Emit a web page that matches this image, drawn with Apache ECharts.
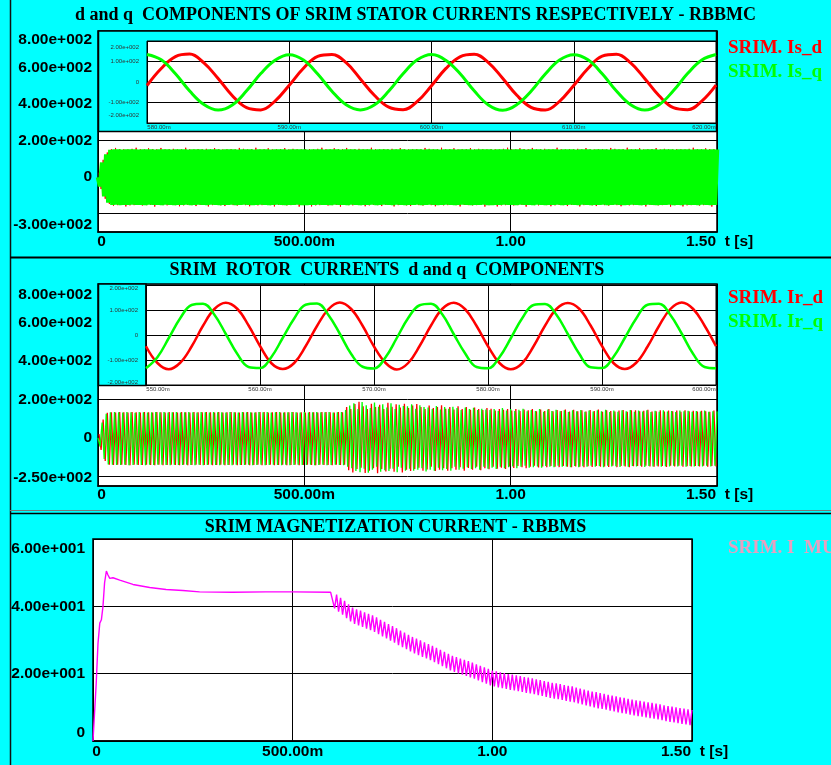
<!DOCTYPE html>
<html><head><meta charset="utf-8">
<script src="https://cdn.jsdelivr.net/npm/echarts@6/dist/echarts.min.js"></script>
<style>html,body{margin:0;padding:0;background:#00ffff}#c{width:831px;height:765px}</style>
</head><body><div id="c"></div>
<script>
// ---------- DATA ----------
// main time traces: one value per half period (5 ms), peaks and troughs
const MAIN_STEP = 0.005;           // s
const D_OFFSET = 0.0025;           // d component sampled a quarter period later
// Panel 1 : stator currents (A)
const isQMain = [
0,-50,80,-105,125,-140,150,-152,153,-151,
152,-153,151,-152,153,-152,152,-151,153,-152,
151,-152,152,-153,152,-151,153,-152,151,-152,
152,-153,153,-151,152,-152,151,-153,152,-152,
153,-152,152,-151,151,-153,152,-152,153,-151,
152,-152,151,-153,152,-151,153,-152,152,-153,
151,-152,152,-152,153,-151,152,-153,151,-152,
152,-151,153,-152,152,-153,151,-152,152,-151,
153,-152,152,-153,151,-152,152,-151,153,-152,
152,-153,151,-152,152,-152,153,-151,152,-153,
152,-153,151,-152,153,-152,152,-151,153,-152,
151,-152,152,-153,152,-151,153,-152,151,-152,
152,-153,153,-151,152,-152,151,-153,152,-152,
153,-152,152,-151,151,-153,152,-152,153,-151,
152,-152,151,-153,152,-151,153,-152,152,-153,
151,-152,152,-152,153,-151,152,-153,151,-152,
152,-151,153,-152,152,-153,151,-152,152,-151,
153,-152,152,-153,151,-152,152,-151,153,-152,
152,-153,151,-152,152,-152,153,-151,152,-153,
152,-153,151,-152,153,-152,152,-151,153,-152,
151,-152,152,-153,152,-151,153,-152,151,-152,
152,-153,153,-151,152,-152,151,-153,152,-152,
153,-152,152,-151,151,-153,152,-152,153,-151,
152,-152,151,-153,152,-151,153,-152,152,-153,
151,-152,152,-152,153,-151,152,-153,151,-152,
152,-151,153,-152,152,-153,151,-152,152,-151,
153,-152,152,-153,151,-152,152,-151,153,-152,
152,-153,151,-152,152,-152,153,-151,152,-153,
151,-152,152,-153,152,-151,153,-152,151,-152,
152,-153,153,-151,152,-152,151,-153,152,-152,
152];
const isDMain = [
25,-65,95,-118,135,-146,153,-156,160,-153,
154,-152,153,-160,152,-154,155,-153,161,-152,
153,-155,152,-153,158,-152,154,-161,153,-152,
160,-153,152,-154,153,-152,155,-153,152,-159,
152,-154,161,-152,153,-153,152,-158,154,-152,
153,-152,155,-160,152,-153,159,-152,153,-154,
152,-158,153,-152,154,-153,152,-155,160,-152,
155,-153,152,-159,153,-152,161,-154,152,-153,
153,-152,158,-153,152,-160,153,-152,154,-153,
159,-154,152,-153,155,-152,153,-161,152,-153,
154,-152,153,-160,152,-154,155,-153,161,-152,
153,-155,152,-153,158,-152,154,-161,153,-152,
160,-153,152,-154,153,-152,155,-153,152,-159,
152,-154,161,-152,153,-153,152,-158,154,-152,
153,-152,155,-160,152,-153,159,-152,153,-154,
152,-158,153,-152,154,-153,152,-155,160,-152,
155,-153,152,-159,153,-152,161,-154,152,-153,
153,-152,158,-153,152,-160,153,-152,154,-153,
159,-154,152,-153,155,-152,153,-161,152,-153,
154,-152,153,-160,152,-154,155,-153,161,-152,
153,-155,152,-153,158,-152,154,-161,153,-152,
160,-153,152,-154,153,-152,155,-153,152,-159,
152,-154,161,-152,153,-153,152,-158,154,-152,
153,-152,155,-160,152,-153,159,-152,153,-154,
152,-158,153,-152,154,-153,152,-155,160,-152,
155,-153,152,-159,153,-152,161,-154,152,-153,
153,-152,158,-153,152,-160,153,-152,154,-153,
159,-154,152,-153,155,-152,153,-161,152,-153,
154,-152,153,-160,152,-154,155,-153,161,-152,
153,-155,152,-153,158,-152,154,-161,153,-152];
// Panel 1 inset, 580..620 ms, 1 ms apart
const INSET1_T0 = 580, INSET_STEP = 1;
const isDInset = [-17,66,124,136,93,17,-67,-125,-136,-93,
-16,67,125,134,94,15,-66,-123,-135,-95,
-18,65,123,135,95,18,-65,-124,-137,-94,
-17,66,126,135,93,16,-67,-125,-135,-93,-15];
const isQInset = [134,108,40,-44,-110,-137,-112,-43,41,106,
133,107,39,-45,-111,-136,-111,-44,40,108,
134,106,41,-43,-112,-138,-110,-45,39,107,
133,108,40,-44,-111,-137,-111,-43,41,107,134];
// Panel 2 : rotor currents (A)
const irQMain = [
0,-45,80,-110,125,-138,133,-140,134,-141,
133,-141,132,-140,134,-142,133,-141,131,-140,
134,-141,133,-142,132,-140,133,-141,134,-139,
133,-140,134,-141,132,-142,133,-140,134,-141,
132,-141,133,-140,134,-141,133,-142,132,-140,
134,-142,133,-141,132,-140,134,-141,133,-142,
133,-140,132,-141,134,-142,133,-140,132,-141,
134,-141,133,-140,133,-142,132,-141,134,-140,
133,-142,134,-141,132,-140,133,-141,134,-142,
132,-140,133,-142,134,-141,133,-140,132,-141,
134,-141,132,-140,133,-142,134,-141,133,-140,
133,-142,134,-141,132,-140,133,-141,134,-142,
145,-150,168,-158,180,-172,150,-178,186,-160,
170,-181,155,-165,184,-150,162,-176,175,-168,
158,-172,180,-160,150,-178,172,-155,166,-170,
165,-160,175,-170,152,-165,170,-158,160,-174,
158,-165,150,-170,166,-155,148,-168,160,-162,
152,-170,162,-150,155,-166,145,-160,158,-152,
150,-162,156,-158,145,-165,152,-150,148,-160,
145,-155,150,-162,140,-150,155,-158,142,-152,
150,-148,140,-158,146,-150,152,-145,138,-155,
145,-152,140,-148,150,-155,136,-146,148,-150,
140,-153,146,-145,138,-150,144,-148,135,-152,
143,-146,138,-152,145,-147,136,-150,142,-145,
137,-150,144,-146,139,-152,146,-144,135,-149,
142,-147,136,-151,143,-145,138,-150,145,-146,
136,-149,142,-145,137,-151,144,-146,135,-148,
141,-145,136,-150,143,-147,137,-149,140,-144,
135,-148,142,-145,138,-150,141,-146,136,-149,
140,-146,137,-149,142,-144,136,-148,139,-145,
138];
const irDMain = [
20,-62,95,-120,130,-140,133,-141,132,-140,
134,-140,133,-141,132,-142,134,-140,133,-141,
132,-141,134,-140,133,-141,132,-142,134,-140,
133,-142,132,-141,134,-140,133,-141,132,-142,
134,-140,133,-142,132,-141,134,-140,133,-141,
133,-141,134,-140,133,-142,132,-141,134,-140,
132,-142,133,-141,134,-140,133,-142,132,-141,
133,-140,134,-142,132,-141,133,-140,134,-142,
134,-141,132,-140,133,-142,134,-141,132,-140,
133,-142,133,-141,134,-140,132,-142,133,-141,
132,-140,134,-141,133,-142,132,-140,134,-141,
134,-141,133,-142,132,-140,134,-141,133,-140,
160,-168,150,-180,176,-162,188,-155,165,-182,
150,-170,178,-158,160,-184,172,-162,150,-175,
182,-160,162,-176,175,-150,158,-180,178,-165,
155,-172,168,-162,176,-155,160,-170,150,-164,
168,-150,155,-172,160,-165,170,-158,152,-170,
160,-158,148,-165,165,-152,150,-170,160,-156,
146,-166,158,-150,150,-168,145,-158,155,-163,
152,-150,142,-160,150,-155,146,-162,150,-148,
142,-156,150,-146,140,-152,148,-158,144,-150,
150,-145,138,-154,147,-149,140,-152,150,-146,
138,-150,145,-152,140,-146,148,-150,137,-153,
146,-148,139,-150,144,-153,137,-147,145,-151,
140,-146,147,-150,136,-148,143,-151,140,-145,
137,-152,142,-146,145,-149,136,-152,143,-147,
144,-146,138,-150,141,-145,146,-149,137,-150,
138,-149,143,-146,137,-151,142,-145,139,-148,
142,-145,136,-150,143,-147,138,-149,141,-146,
137,-148,141,-145,139,-150,136,-146,142,-148];
// Panel 2 inset, 550..600 ms, 1 ms apart
const INSET2_T0 = 550;
const irDInset = [-45,-112,-137,-111,-46,37,104,129,105,38,
-44,-113,-136,-112,-45,36,103,130,104,37,
-46,-111,-138,-112,-44,38,105,129,103,36,
-45,-112,-137,-113,-45,37,104,128,105,38,
-44,-112,-136,-111,-46,36,104,130,104,37,-45];
const irQInset = [-133,-89,-12,67,120,125,81,4,-75,-128,
-132,-88,-11,66,121,126,80,5,-76,-127,
-134,-90,-12,68,119,125,82,3,-74,-128,
-133,-89,-13,67,120,124,81,4,-75,-129,
-132,-88,-12,66,121,125,80,5,-76,-128,-133];
// Panel 3 : magnetization current (A)
const muT = [0,0.005,0.008,0.0125,0.017,0.021,0.025,0.029,0.0335,0.0375,0.042,0.05,0.067,0.1,0.142,0.183,0.225,0.267,0.35,0.433,0.5,0.595];
const muV = [0,0,17,29,35,36,40,47,50.5,49.3,48.3,48.5,47.8,46.5,45.6,45,44.7,44.3,44.2,44.3,44.3,44.2];
const MU_OSC_T0 = 0.6;
const muOsc = [
44.4,39.4,43.5,38.4,42.5,37.5,41.6,36.5,40.6,35.5,
39.6,34.8,39.1,34.3,38.7,33.9,38.2,33.4,37.8,32.9,
37.3,32.4,36.7,31.7,36.0,31.1,35.4,30.5,34.7,29.8,
34.1,29.2,33.5,28.5,32.8,27.9,32.2,27.3,31.5,26.6,
30.9,26.0,30.4,25.5,29.9,25.0,29.3,24.5,28.8,24.0,
28.3,23.4,27.7,22.8,27.1,22.2,26.5,21.6,25.9,21.0,
25.3,20.5,24.9,20.1,24.5,19.7,24.1,19.3,23.7,18.9,
23.3,18.5,22.8,18.0,22.3,17.5,21.9,17.0,21.4,16.5,
20.9,16.2,20.7,15.9,20.4,15.7,20.2,15.5,19.9,15.2,
19.7,15.0,19.5,14.8,19.3,14.6,19.0,14.3,18.8,14.1,
18.6,13.9,18.3,13.6,18.1,13.4,17.8,13.1,17.6,12.8,
17.3,12.6,17.1,12.4,16.9,12.2,16.6,11.9,16.4,11.7,
16.2,11.5,15.9,11.2,15.6,10.9,15.3,10.6,15.0,10.3,
14.7,10.0,14.5,9.7,14.2,9.5,14.0,9.3,13.7,9.0,
13.5,8.8,13.3,8.5,13.0,8.3,12.8,8.1,12.5,7.8,
12.3,7.6,12.1,7.4,11.9,7.2,11.7,7.0,11.5,6.8,
11.3,6.6,11.1,6.4,10.9,6.2,10.6,5.9,10.4,5.7,
10.2,5.5,10.0,5.3,9.8,5.1,9.6,4.9,9.4,4.7,
9.2];
// tick labels
const tTicks = [0, 0.5, 1, 1.5];
const tLabels = ['0', '500.00m', '1.00', '1.50'];
const tAxisName = 't [s]';
const p1YTicks = [-300, 0, 200, 400, 600, 800];
const p1YLabels = ['-3.00e+002', '0', '2.00e+002', '4.00e+002', '6.00e+002', '8.00e+002'];
const p2YTicks = [-250, 0, 200, 400, 600, 800];
const p2YLabels = ['-2.50e+002', '0', '2.00e+002', '4.00e+002', '6.00e+002', '8.00e+002'];
const p3YTicks = [0, 20, 40, 60];
const p3YLabels = ['0', '2.00e+001', '4.00e+001', '6.00e+001'];
const insetYTicks = [-200, -100, 0, 100, 200];
const insetYLabels = ['-2.00e+002', '-1.00e+002', '0', '1.00e+002', '2.00e+002'];
const gridMarks1 = [200, -200];
const gridMarks2 = [200, -200];

// ---------- build ----------
function pairs(vals, t0, dt) { return vals.map((v, i) => [+(t0 + i * dt).toFixed(5), v]); }
const muData = muT.map((t, i) => [t, muV[i]]).concat(pairs(muOsc, MU_OSC_T0, MAIN_STEP));

const RED = '#ff0000', GREEN = '#00ff00', MAG = '#ff00ff';
const mainFont = { fontFamily: 'Liberation Sans', fontWeight: 'bold', fontSize: 15.5, color: '#000' };
const smallFont = { fontFamily: 'Liberation Sans', fontSize: 6, color: '#333' };

function fmt(ticks, labels, min, max) {
  return function (v) {
    const i = ticks.findIndex(t => Math.abs(t - v) < 1e-6);
    if (i < 0) return '';
    if (Math.abs(v - min) < 1e-6) return '{lo|' + labels[i] + '}';
    if (Math.abs(v - max) < 1e-6) return '{hi|' + labels[i] + '}';
    return labels[i];
  };
}
function yRich(font, padHi, padLo) {
  return { hi: Object.assign({}, font, { padding: [padHi, 0, 0, 0] }), lo: Object.assign({}, font, { padding: [0, 0, padLo, 0] }) };
}
function xRich(font, padLo, padHi) {
  return { lo: Object.assign({}, font, { padding: [0, 0, 0, padLo] }), hi: Object.assign({}, font, { padding: [0, padHi, 0, 0] }) };
}
function mainX(grid, margin) {
  return {
    gridIndex: grid, type: 'value', min: 0, max: 1.5, interval: 0.5,
    axisLine: { show: true, onZero: false, lineStyle: { color: '#000', width: 1.5 } },
    axisTick: { show: false },
    splitLine: { show: true, lineStyle: { color: '#000', width: 1 } },
    axisLabel: Object.assign({}, mainFont, { margin: margin, formatter: fmt(tTicks, tLabels, 0, 1.5), rich: xRich(mainFont, 7, 32) })
  };
}
function mainY(grid, min, max, interval, ticks, labels, padHi, padLo, margin, split) {
  return {
    gridIndex: grid, type: 'value', min: min, max: max, interval: interval,
    axisLine: { show: false, onZero: false }, axisTick: { show: false },
    splitLine: { show: !!split, lineStyle: { color: '#000', width: 1 } },
    axisLabel: Object.assign({}, mainFont, { margin: margin, formatter: fmt(ticks, labels, min, max), rich: yRich(mainFont, padHi, padLo) })
  };
}
function insetX(grid, t0, t1) {
  return {
    gridIndex: grid, type: 'value', min: t0, max: t1, interval: 10, z: 6,
    axisLine: { show: true, onZero: false, lineStyle: { color: '#000', width: 1 } },
    axisTick: { show: false },
    splitLine: { show: true, lineStyle: { color: '#000', width: 1 } },
    axisLabel: Object.assign({}, smallFont, { margin: 1, formatter: function (v) {
      const s = v.toFixed(2) + 'm';
      if (Math.abs(v - t0) < 1e-6) return '{lo|' + s + '}';
      if (Math.abs(v - t1) < 1e-6) return '{hi|' + s + '}';
      return s; }, rich: xRich(smallFont, 24, 24) })
  };
}
function insetY(grid, padHi, padLo) {
  return {
    gridIndex: grid, type: 'value', min: -200, max: 200, interval: 100, z: 6,
    axisLine: { show: false, onZero: false }, axisTick: { show: false },
    splitLine: { show: true, lineStyle: { color: '#000', width: 1 } },
    axisLabel: Object.assign({}, smallFont, { margin: 8, formatter: fmt(insetYTicks, insetYLabels, -200, 200), rich: yRich(smallFont, padHi, padLo) })
  };
}
function line(name, xi, data, color, width, extra) {
  return Object.assign({ name: name, type: 'line', xAxisIndex: xi, yAxisIndex: xi, data: data, showSymbol: false,
    silent: true, animation: false, itemStyle: { color: color }, lineStyle: { color: color, width: width, join: 'bevel' } }, extra || {});
}
function marks(vals) {
  return { silent: true, symbol: ['none', 'none'], label: { show: false }, animation: false,
    lineStyle: { color: '#000', width: 1, type: 'solid' }, data: vals.map(v => ({ yAxis: v })) };
}
function axisName(x, y) {
  return { type: 'text', z: 10, x: x, y: y, style: { text: tAxisName, fill: '#000', font: 'bold 15.5px "Liberation Sans"', align: 'center', verticalAlign: 'middle' } };
}
const titleFont = { fontFamily: 'Liberation Serif', fontWeight: 'bold', fontSize: 18, color: '#000' };
const legendFont = { fontFamily: 'Liberation Serif', fontWeight: 'bold', fontSize: 19 };
function legend(top, items) {
  return { top: top, left: 723, orient: 'vertical', itemGap: 5, padding: 0, icon: 'none', itemWidth: 0, itemHeight: 14,
    selectedMode: false, textStyle: legendFont,
    data: items.map(it => ({ name: it[0], textStyle: Object.assign({}, legendFont, { color: it[1] }) })) };
}

const option = {
  backgroundColor: '#00ffff',
  animation: false,
  title: [
    { text: 'd and q  COMPONENTS OF SRIM STATOR CURRENTS RESPECTIVELY - RBBMC', left: 410.5, top: 1, textAlign: 'center', textStyle: titleFont },
    { text: 'SRIM  ROTOR  CURRENTS  d and q  COMPONENTS', left: 382, top: 256, textAlign: 'center', textStyle: titleFont },
    { text: 'SRIM MAGNETIZATION CURRENT - RBBMS', left: 390.5, top: 513, textAlign: 'center', textStyle: titleFont }
  ],
  legend: [
    legend(39, [['SRIM. Is_d', RED], ['SRIM. Is_q', GREEN]]),
    legend(289, [['SRIM. Ir_d', RED], ['SRIM. Ir_q', GREEN]]),
    legend(539, [['SRIM. I  MU', '#e6a0c0']])
  ],
  grid: [
    { left: 98, top: 31, width: 619, height: 201, show: true, backgroundColor: '#fff', borderColor: '#000', borderWidth: 1.5 },
    { left: 147, top: 41, width: 569, height: 82, show: true, backgroundColor: '#fff', borderColor: '#000', borderWidth: 1, z: 5 },
    { left: 98, top: 284, width: 619, height: 202, show: true, backgroundColor: '#fff', borderColor: '#000', borderWidth: 1.5 },
    { left: 146, top: 285, width: 570, height: 100, show: true, backgroundColor: '#fff', borderColor: '#000', borderWidth: 1, z: 5 },
    { left: 93, top: 539, width: 599, height: 202, show: true, backgroundColor: '#fff', borderColor: '#000', borderWidth: 1.5 }
  ],
  xAxis: [ mainX(0, 2), insetX(1, 580, 620), mainX(2, 1), insetX(3, 550, 600), mainX(4, 3) ],
  yAxis: [
    mainY(0, -300, 800, 100, p1YTicks, p1YLabels, 18, 14, 6, false),
    insetY(1, 13, 16),
    mainY(2, -250, 800, 50, p2YTicks, p2YLabels, 22, 16, 6, false),
    insetY(3, 6, 6),
    mainY(4, 0, 60, 20, p3YTicks, p3YLabels, 20, 16, 8, true)
  ],
  graphic: [
    { type: 'rect', z: 4, shape: { x: 98.5, y: 31, width: 618, height: 100.5 }, style: { fill: '#00ffff', stroke: '#000', lineWidth: 1.5 } },
    { type: 'rect', z: 4, shape: { x: 98.5, y: 284, width: 47.5, height: 101.5 }, style: { fill: '#00ffff', stroke: '#000', lineWidth: 1.5 } },
    { type: 'line', z: 10, shape: { x1: 10.5, y1: 0, x2: 10.5, y2: 765 }, style: { stroke: '#111', lineWidth: 1.5 } },
    { type: 'line', z: 10, shape: { x1: 10, y1: 257.5, x2: 831, y2: 257.5 }, style: { stroke: '#000', lineWidth: 2 } },
    { type: 'line', z: 10, shape: { x1: 10, y1: 510.5, x2: 831, y2: 510.5 }, style: { stroke: '#777', lineWidth: 1 } },
    { type: 'line', z: 10, shape: { x1: 10, y1: 513.5, x2: 831, y2: 513.5 }, style: { stroke: '#000', lineWidth: 1.5 } },
    axisName(739, 242), axisName(739, 495), axisName(714, 752)
  ],
  series: [
    line('SRIM. Is_d', 0, pairs(isDMain, D_OFFSET, MAIN_STEP), RED, 1, { markLine: marks(gridMarks1) }),
    line('SRIM. Is_q', 0, pairs(isQMain, 0, MAIN_STEP), GREEN, 4.5),
    line('SRIM. Is_d', 1, pairs(isDInset, INSET1_T0, INSET_STEP), RED, 3, { smooth: 0.4, z: 7 }),
    line('SRIM. Is_q', 1, pairs(isQInset, INSET1_T0, INSET_STEP), GREEN, 3, { smooth: 0.4, z: 7 }),
    line('SRIM. Ir_d', 2, pairs(irDMain, D_OFFSET, MAIN_STEP), RED, 1.3, { markLine: marks(gridMarks2) }),
    line('SRIM. Ir_q', 2, pairs(irQMain, 0, MAIN_STEP), GREEN, 1.3),
    line('SRIM. Ir_d', 3, pairs(irDInset, INSET2_T0, INSET_STEP), RED, 2.5, { smooth: 0.4, z: 7 }),
    line('SRIM. Ir_q', 3, pairs(irQInset, INSET2_T0, INSET_STEP), GREEN, 2.5, { smooth: 0.4, z: 7 }),
    line('SRIM. I  MU', 4, muData, MAG, 1.4)
  ]
};
const chart = echarts.init(document.getElementById('c'), null, { renderer: 'canvas' });
chart.setOption(option);
</script></body></html>
